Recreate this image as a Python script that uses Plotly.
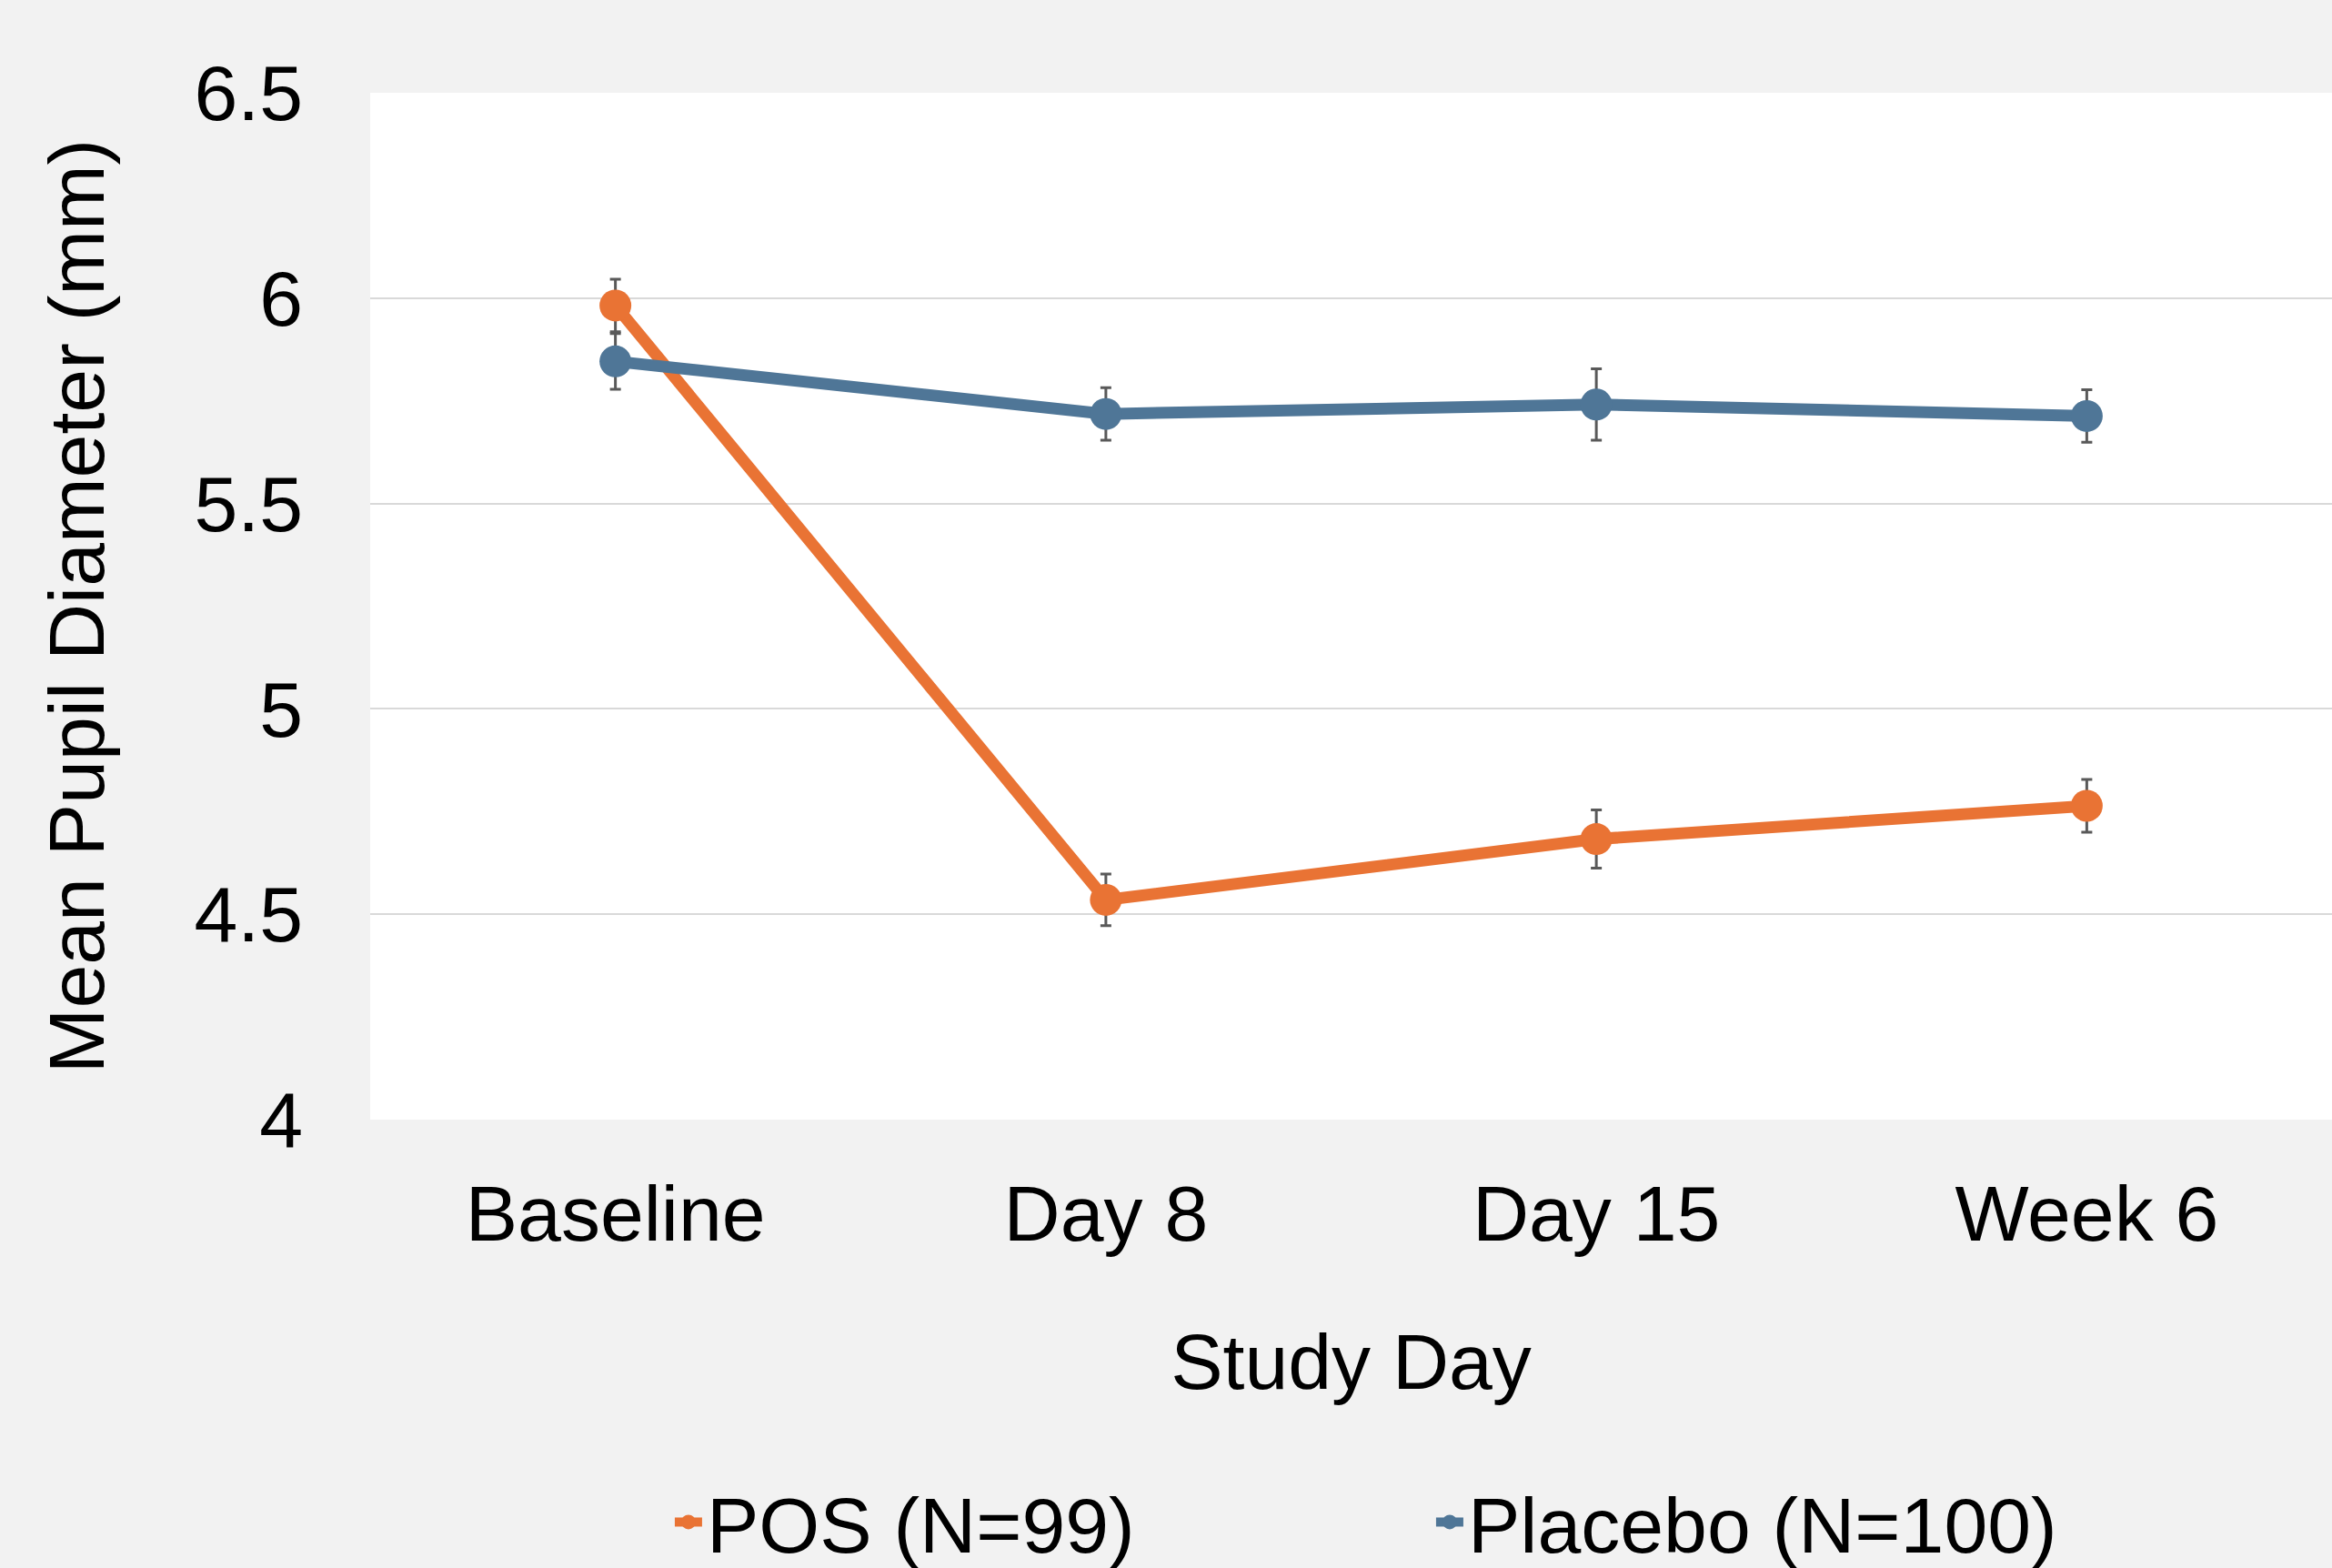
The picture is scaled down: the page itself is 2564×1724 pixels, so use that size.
import plotly.graph_objects as go

categories = ["Baseline", "Day 8", "Day 15", "Week 6"]
pos_values = [5.982, 4.535, 4.683, 4.764]
pos_errors = [0.064, 0.063, 0.071, 0.064]
placebo_values = [5.846, 5.718, 5.741, 5.713]
placebo_errors = [0.068, 0.064, 0.087, 0.064]
y_ticks = [4, 4.5, 5, 5.5, 6, 6.5]
y_tick_labels = ["4", "4.5", "5", "5.5", "6", "6.5"]

ORANGE = "#E97334"
BLUE = "#4F7697"
FONT = "Liberation Sans, Arial, sans-serif"

fig = go.Figure()
fig.add_trace(go.Scatter(
    x=categories, y=pos_values, name="POS (N=99)", mode="lines+markers",
    line=dict(color=ORANGE, width=13),
    marker=dict(color=ORANGE, size=35),
    error_y=dict(type="data", array=pos_errors, visible=True,
                 color="#595959", thickness=3, width=6),
))
fig.add_trace(go.Scatter(
    x=categories, y=placebo_values, name="Placebo (N=100)", mode="lines+markers",
    line=dict(color=BLUE, width=13),
    marker=dict(color=BLUE, size=35),
    error_y=dict(type="data", array=placebo_errors, visible=True,
                 color="#595959", thickness=3, width=6),
))

fig.update_layout(
    width=2564, height=1724,
    paper_bgcolor="#F2F2F2", plot_bgcolor="#FFFFFF",
    font=dict(family=FONT, size=86, color="#000000"),
    margin=dict(l=407, r=0, t=102, b=493, autoexpand=False),
    showlegend=True,
    legend=dict(orientation="h", x=0.541, xanchor="center", y=-0.392, yanchor="middle",
                font=dict(size=86), bgcolor="rgba(0,0,0,0)",
                entrywidth=792, entrywidthmode="pixels", itemwidth=30),
    xaxis=dict(
        type="category", categoryorder="array", categoryarray=categories,
        range=[-0.5, 3.5], showgrid=False, zeroline=False, showline=False,
        ticks="", ticklabelstandoff=46,
        title=dict(text="Study Day", font=dict(size=86), standoff=85),
    ),
    yaxis=dict(
        range=[4, 6.5], tickvals=y_ticks, ticktext=y_tick_labels,
        showgrid=True, gridcolor="#D9D9D9", gridwidth=2,
        zeroline=False, showline=False, ticks="", ticklabelstandoff=73,
        title=dict(text="Mean Pupil Diameter (mm)", font=dict(size=86), standoff=70),
    ),
)

fig.write_html(
    "out.html",
    config={"displayModeBar": False},
    post_script="document.body.style.margin='0';document.body.style.background='#F2F2F2';",
)
